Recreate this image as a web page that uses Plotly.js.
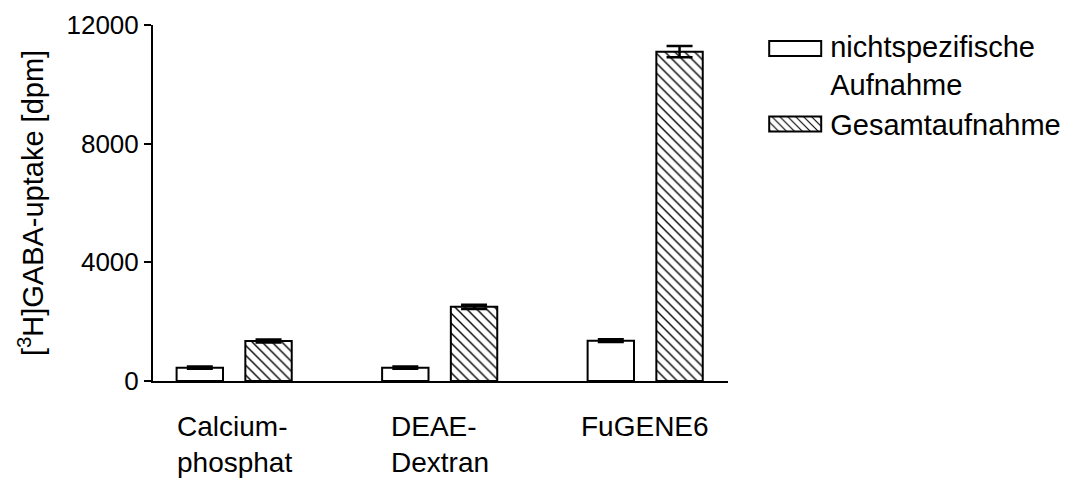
<!DOCTYPE html>
<html>
<head>
<meta charset="utf-8">
<script src="https://cdn.plot.ly/plotly-3.0.1.min.js"></script>
<style>html,body{margin:0;padding:0;background:#fff;}#chart{width:1078px;height:482px;}</style>
</head>
<body>
<div id="chart"></div>
<script>
// ---- data ----
var categories = ["Calcium-<br>phosphat", "DEAE-<br>Dextran", "FuGENE6"];
var seriesNames = ["nichtspezifische<br>Aufnahme", "Gesamtaufnahme"];
var unspecific = [450, 450, 1360];
var unspecificErr = [40, 40, 45];
var total = [1350, 2500, 11100];
var totalErr = [50, 70, 190];
var yTickVals = [0, 4000, 8000, 12000];
var yTickText = ["0", "4000", "8000", "12000"];

var xIdx = categories.map(function (c, i) { return i; });
var FONT = "Liberation Sans, Arial, Helvetica, sans-serif";

var traces = [
  {
    type: "bar", name: seriesNames[0], x: xIdx, y: unspecific,
    marker: { color: "#ffffff", line: { color: "#000", width: 2 } },
    error_y: { type: "data", array: unspecificErr, visible: true, color: "#000", thickness: 2.5, width: 13 }
  },
  {
    type: "bar", name: seriesNames[1], x: xIdx, y: total,
    marker: {
      color: "#ffffff", line: { color: "#000", width: 2 },
      pattern: { shape: "\\", fgcolor: "#000", bgcolor: "#fff", size: 7, solidity: 0.2 }
    },
    error_y: { type: "data", array: totalErr, visible: true, color: "#000", thickness: 2.5, width: 13 }
  }
];

var annotations = categories.map(function (c, i) {
  return {
    x: i, xref: "x", y: 0, yref: "paper", yanchor: "top", xanchor: "center",
    yshift: -28, text: c, align: "left", showarrow: false,
    font: { family: FONT, size: 28, color: "#000" }
  };
});

var layout = {
  width: 1078, height: 482,
  margin: { l: 153, r: 340, t: 25, b: 101, pad: 0 },
  paper_bgcolor: "#fff", plot_bgcolor: "#fff",
  font: { family: FONT, color: "#000" },
  barmode: "group", bargap: 0.331, bargroupgap: 0.325,
  showlegend: true,
  legend: {
    x: 1.056, y: 1.013, xanchor: "left", yanchor: "top",
    itemwidth: 60,
    font: { family: FONT, size: 29, color: "#000" },
    bgcolor: "rgba(0,0,0,0)", traceorder: "normal"
  },
  xaxis: {
    range: [-0.395, 2.403], showticklabels: false, ticks: "",
    showgrid: false, zeroline: false, showline: true, linecolor: "#000", linewidth: 2,
    fixedrange: true
  },
  yaxis: {
    range: [0, 12000], tickvals: yTickVals, ticktext: yTickText,
    ticks: "outside", ticklen: 7, tickwidth: 2, tickcolor: "#000",
    showgrid: false, zeroline: false, showline: true, linecolor: "#000", linewidth: 2,
    tickfont: { family: FONT, size: 26, color: "#000" },
    title: { text: "[<sup>3</sup>H]GABA-uptake [dpm]", standoff: 14, font: { family: FONT, size: 29, color: "#000" } },
    automargin: false, fixedrange: true
  },
  annotations: annotations
};

Plotly.newPlot("chart", traces, layout, { displayModeBar: false, staticPlot: true }).then(function (gd) {
  // widen the legend swatches to the reference's rectangular shape;
  // the two-line entry's swatch sits beside its first line, as in the reference
  var items = gd.querySelectorAll(".legend .traces");
  items.forEach(function (item, k) {
    var p = item.querySelector(".legendpoints path");
    if (!p) return;
    var dy = (k === 0) ? -16 : 0;
    p.setAttribute("d", "M26," + (7.5 + dy) + "H-26V" + (-7.5 + dy) + "H26Z");
  });
});
</script>
</body>
</html>
